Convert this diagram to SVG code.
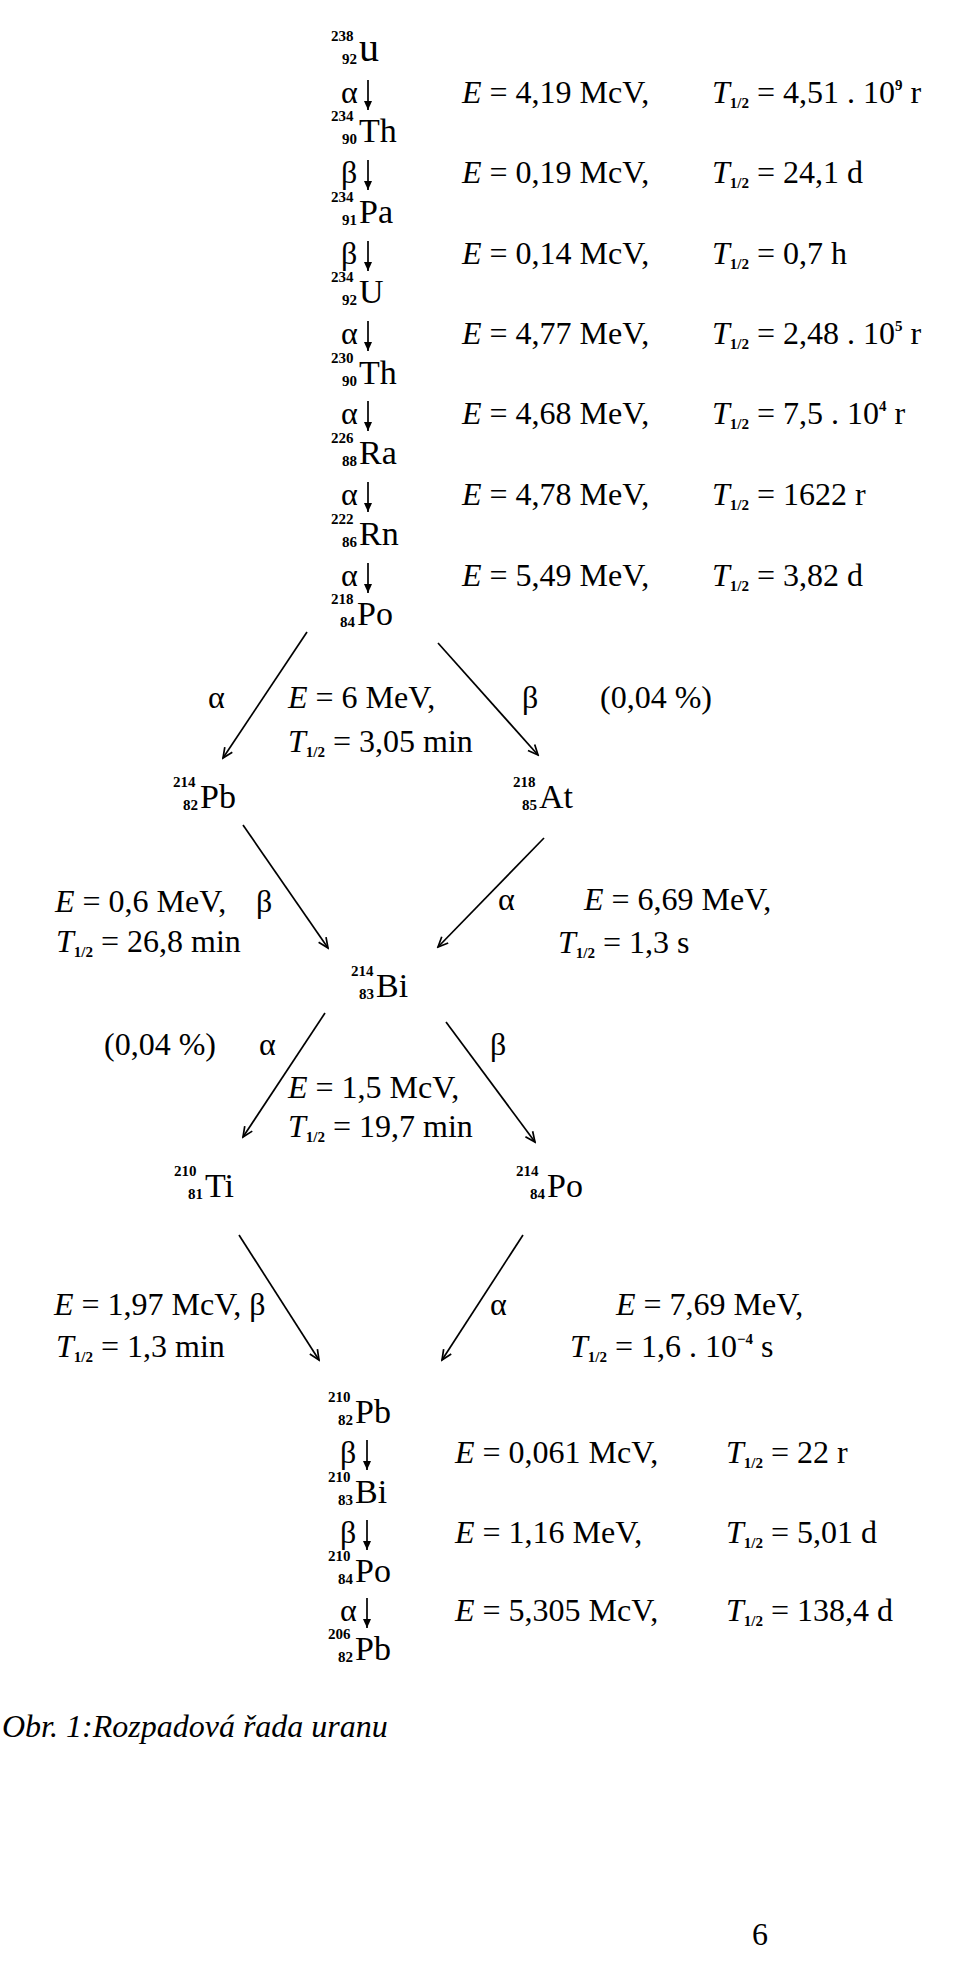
<svg xmlns="http://www.w3.org/2000/svg" width="960" height="1968" viewBox="0 0 960 1968">
<style>
text{font-family:"Liberation Serif","Times New Roman",serif;fill:#000}
.t{font-size:32px}
.el{font-size:34px}
.sc{font-size:15px;font-weight:bold}
.s{font-size:15px;font-weight:bold}
.i{font-style:italic}
.cap{font-size:32px;font-style:italic}
.ln{stroke:#000;stroke-width:1.7;fill:none}
</style>
<defs>
<marker id="v" markerWidth="14" markerHeight="14" refX="12" refY="7" orient="auto" markerUnits="userSpaceOnUse">
<path d="M2,2.5 L12,7 L2,11.5" stroke="#000" stroke-width="1.7" fill="none"/>
</marker>
<marker id="d" markerWidth="12" markerHeight="12" refX="10" refY="6" orient="auto" markerUnits="userSpaceOnUse">
<path d="M1,2 L10,6 L1,10 Z" fill="#000"/>
</marker>
</defs>
<rect width="960" height="1968" fill="#fff"/>

<!-- connectors -->
<g id="connectors" class="ln">
<line x1="368" y1="80" x2="368" y2="110" marker-end="url(#d)"/>
<line x1="368" y1="160" x2="368" y2="190" marker-end="url(#d)"/>
<line x1="368" y1="241" x2="368" y2="271" marker-end="url(#d)"/>
<line x1="368" y1="321" x2="368" y2="351" marker-end="url(#d)"/>
<line x1="368" y1="401" x2="368" y2="431" marker-end="url(#d)"/>
<line x1="368" y1="482" x2="368" y2="512" marker-end="url(#d)"/>
<line x1="368" y1="563" x2="368" y2="593" marker-end="url(#d)"/>
<line x1="307" y1="632" x2="223" y2="758" marker-end="url(#v)"/>
<line x1="438" y1="643" x2="538" y2="755" marker-end="url(#v)"/>
<line x1="243" y1="825" x2="328" y2="948" marker-end="url(#v)"/>
<line x1="544" y1="838" x2="438" y2="947" marker-end="url(#v)"/>
<line x1="325" y1="1013" x2="243" y2="1137" marker-end="url(#v)"/>
<line x1="446" y1="1022" x2="535" y2="1142" marker-end="url(#v)"/>
<line x1="239" y1="1235" x2="319" y2="1360" marker-end="url(#v)"/>
<line x1="523" y1="1235" x2="442" y2="1360" marker-end="url(#v)"/>
<line x1="367" y1="1440" x2="367" y2="1470" marker-end="url(#d)"/>
<line x1="367" y1="1520" x2="367" y2="1550" marker-end="url(#d)"/>
<line x1="367" y1="1598" x2="367" y2="1628" marker-end="url(#d)"/>
</g>

<!-- nodes -->
<g id="n-U238"><text class="sc" x="331" y="41">238</text><text class="sc" x="357" y="64" text-anchor="end">92</text><text x="359" y="61" style="font-size:40px">u</text></g>
<g id="n-Th234"><text class="sc" x="331" y="121">234</text><text class="sc" x="357" y="144" text-anchor="end">90</text><text class="el" x="359" y="142">Th</text></g>
<g id="n-Pa234"><text class="sc" x="331" y="202">234</text><text class="sc" x="357" y="225" text-anchor="end">91</text><text class="el" x="359" y="223">Pa</text></g>
<g id="n-U234"><text class="sc" x="331" y="282">234</text><text class="sc" x="357" y="305" text-anchor="end">92</text><text class="el" x="359" y="303">U</text></g>
<g id="n-Th230"><text class="sc" x="331" y="363">230</text><text class="sc" x="357" y="386" text-anchor="end">90</text><text class="el" x="359" y="384">Th</text></g>
<g id="n-Ra226"><text class="sc" x="331" y="443">226</text><text class="sc" x="357" y="466" text-anchor="end">88</text><text class="el" x="359" y="464">Ra</text></g>
<g id="n-Rn222"><text class="sc" x="331" y="524">222</text><text class="sc" x="357" y="547" text-anchor="end">86</text><text class="el" x="359" y="545">Rn</text></g>
<g id="n-Po218"><text class="sc" x="331" y="604">218</text><text class="sc" x="355" y="627" text-anchor="end">84</text><text class="el" x="357" y="625">Po</text></g>
<g id="n-Pb214"><text class="sc" x="173" y="787">214</text><text class="sc" x="198" y="810" text-anchor="end">82</text><text class="el" x="200" y="808">Pb</text></g>
<g id="n-At218"><text class="sc" x="513" y="787">218</text><text class="sc" x="537" y="810" text-anchor="end">85</text><text class="el" x="539" y="808">At</text></g>
<g id="n-Bi214"><text class="sc" x="351" y="976">214</text><text class="sc" x="374" y="999" text-anchor="end">83</text><text class="el" x="376" y="997">Bi</text></g>
<g id="n-Ti210"><text class="sc" x="174" y="1176">210</text><text class="sc" x="203" y="1199" text-anchor="end">81</text><text class="el" x="205" y="1197">Ti</text></g>
<g id="n-Po214"><text class="sc" x="516" y="1176">214</text><text class="sc" x="545" y="1199" text-anchor="end">84</text><text class="el" x="547" y="1197">Po</text></g>
<g id="n-Pb210"><text class="sc" x="328" y="1402">210</text><text class="sc" x="353" y="1425" text-anchor="end">82</text><text class="el" x="355" y="1423">Pb</text></g>
<g id="n-Bi210"><text class="sc" x="328" y="1482">210</text><text class="sc" x="353" y="1505" text-anchor="end">83</text><text class="el" x="355" y="1503">Bi</text></g>
<g id="n-Po210"><text class="sc" x="328" y="1561">210</text><text class="sc" x="353" y="1584" text-anchor="end">84</text><text class="el" x="355" y="1582">Po</text></g>
<g id="n-Pb206"><text class="sc" x="328" y="1639">206</text><text class="sc" x="353" y="1662" text-anchor="end">82</text><text class="el" x="355" y="1660">Pb</text></g>

<!-- labels top column -->
<g id="labels-top" class="t">
<text x="341" y="103">α</text>
<text x="462" y="103"><tspan class="i">E</tspan> = 4,19 McV,</text>
<text x="712" y="103"><tspan class="i">T</tspan><tspan class="s" dy="5">1/2</tspan><tspan dy="-5"> = 4,51 . 10</tspan><tspan class="s" dy="-13">9</tspan><tspan dy="13"> r</tspan></text>
<text x="341" y="183">β</text>
<text x="462" y="183"><tspan class="i">E</tspan> = 0,19 McV,</text>
<text x="712" y="183"><tspan class="i">T</tspan><tspan class="s" dy="5">1/2</tspan><tspan dy="-5"> = 24,1 d</tspan></text>
<text x="341" y="264">β</text>
<text x="462" y="264"><tspan class="i">E</tspan> = 0,14 McV,</text>
<text x="712" y="264"><tspan class="i">T</tspan><tspan class="s" dy="5">1/2</tspan><tspan dy="-5"> = 0,7 h</tspan></text>
<text x="341" y="344">α</text>
<text x="462" y="344"><tspan class="i">E</tspan> = 4,77 MeV,</text>
<text x="712" y="344"><tspan class="i">T</tspan><tspan class="s" dy="5">1/2</tspan><tspan dy="-5"> = 2,48 . 10</tspan><tspan class="s" dy="-13">5</tspan><tspan dy="13"> r</tspan></text>
<text x="341" y="424">α</text>
<text x="462" y="424"><tspan class="i">E</tspan> = 4,68 MeV,</text>
<text x="712" y="424"><tspan class="i">T</tspan><tspan class="s" dy="5">1/2</tspan><tspan dy="-5"> = 7,5 . 10</tspan><tspan class="s" dy="-13">4</tspan><tspan dy="13"> r</tspan></text>
<text x="341" y="505">α</text>
<text x="462" y="505"><tspan class="i">E</tspan> = 4,78 MeV,</text>
<text x="712" y="505"><tspan class="i">T</tspan><tspan class="s" dy="5">1/2</tspan><tspan dy="-5"> = 1622 r</tspan></text>
<text x="341" y="586">α</text>
<text x="462" y="586"><tspan class="i">E</tspan> = 5,49 MeV,</text>
<text x="712" y="586"><tspan class="i">T</tspan><tspan class="s" dy="5">1/2</tspan><tspan dy="-5"> = 3,82 d</tspan></text>
</g>

<!-- labels diamonds -->
<g id="labels-mid" class="t">
<text x="208" y="708">α</text>
<text x="288" y="708"><tspan class="i">E</tspan> = 6 MeV,</text>
<text x="288" y="752"><tspan class="i">T</tspan><tspan class="s" dy="5">1/2</tspan><tspan dy="-5"> = 3,05 min</tspan></text>
<text x="522" y="708">β</text>
<text x="600" y="708">(0,04 %)</text>
<text x="55" y="912"><tspan class="i">E</tspan> = 0,6 MeV,</text>
<text x="256" y="912">β</text>
<text x="56" y="952"><tspan class="i">T</tspan><tspan class="s" dy="5">1/2</tspan><tspan dy="-5"> = 26,8 min</tspan></text>
<text x="498" y="910">α</text>
<text x="584" y="910"><tspan class="i">E</tspan> = 6,69 MeV,</text>
<text x="558" y="953"><tspan class="i">T</tspan><tspan class="s" dy="5">1/2</tspan><tspan dy="-5"> = 1,3 s</tspan></text>
<text x="104" y="1055">(0,04 %)</text>
<text x="259" y="1055">α</text>
<text x="490" y="1055">β</text>
<text x="288" y="1098"><tspan class="i">E</tspan> = 1,5 McV,</text>
<text x="288" y="1137"><tspan class="i">T</tspan><tspan class="s" dy="5">1/2</tspan><tspan dy="-5"> = 19,7 min</tspan></text>
<text x="54" y="1315"><tspan class="i">E</tspan> = 1,97 McV, β</text>
<text x="56" y="1357"><tspan class="i">T</tspan><tspan class="s" dy="5">1/2</tspan><tspan dy="-5"> = 1,3 min</tspan></text>
<text x="490" y="1315">α</text>
<text x="616" y="1315"><tspan class="i">E</tspan> = 7,69 MeV,</text>
<text x="570" y="1357"><tspan class="i">T</tspan><tspan class="s" dy="5">1/2</tspan><tspan dy="-5"> = 1,6 . 10</tspan><tspan class="s" dy="-13">−4</tspan><tspan dy="13"> s</tspan></text>
</g>

<!-- labels bottom column -->
<g id="labels-bottom" class="t">
<text x="340" y="1463">β</text>
<text x="455" y="1463"><tspan class="i">E</tspan> = 0,061 McV,</text>
<text x="726" y="1463"><tspan class="i">T</tspan><tspan class="s" dy="5">1/2</tspan><tspan dy="-5"> = 22 r</tspan></text>
<text x="340" y="1543">β</text>
<text x="455" y="1543"><tspan class="i">E</tspan> = 1,16 MeV,</text>
<text x="726" y="1543"><tspan class="i">T</tspan><tspan class="s" dy="5">1/2</tspan><tspan dy="-5"> = 5,01 d</tspan></text>
<text x="340" y="1621">α</text>
<text x="455" y="1621"><tspan class="i">E</tspan> = 5,305 McV,</text>
<text x="726" y="1621"><tspan class="i">T</tspan><tspan class="s" dy="5">1/2</tspan><tspan dy="-5"> = 138,4 d</tspan></text>
</g>

<text class="cap" x="2" y="1737">Obr. 1:Rozpadová řada uranu</text>
<text class="t" x="752" y="1945">6</text>
</svg>
